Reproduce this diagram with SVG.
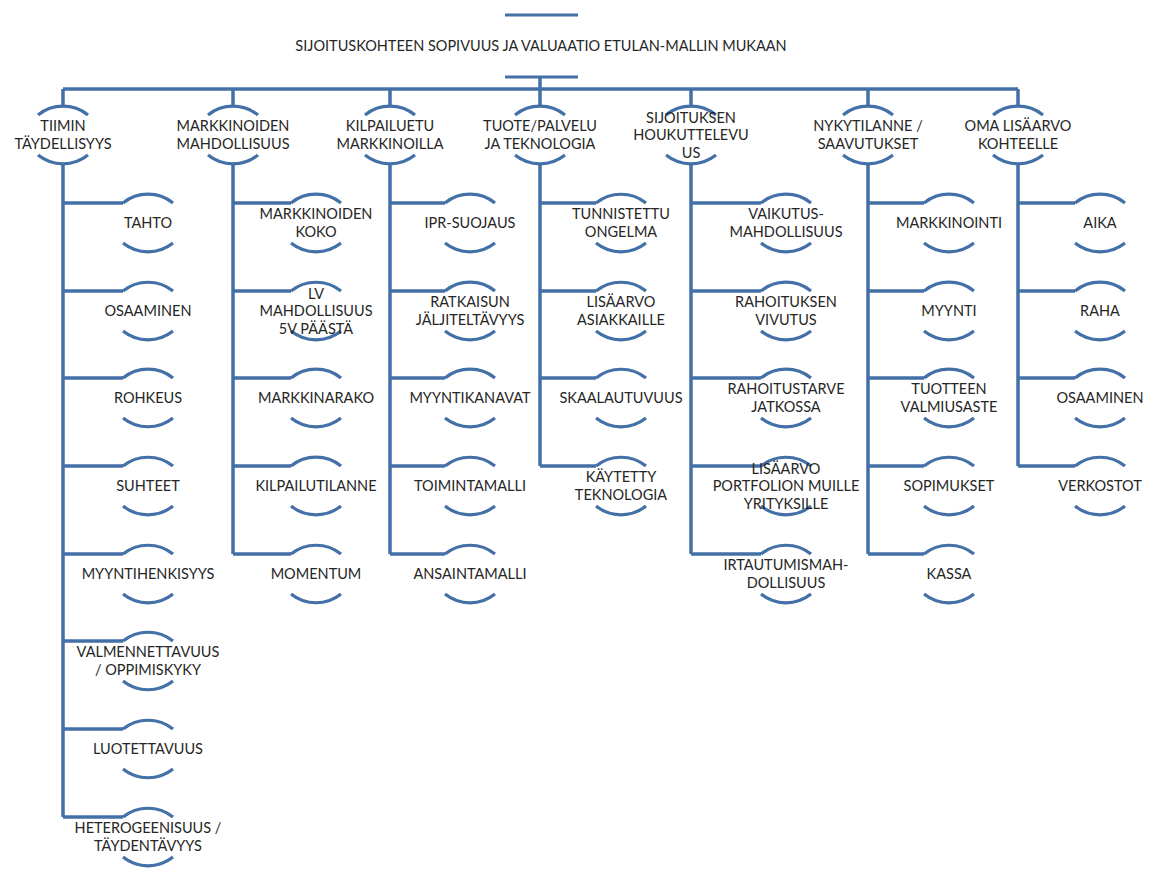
<svg xmlns="http://www.w3.org/2000/svg" width="1155" height="871" viewBox="0 0 1155 871">
<style>
.c{fill:none;stroke:#4470a8;stroke-width:3.5;stroke-linecap:butt}
.a{fill:none;stroke:#4470a8;stroke-width:3.2}
text{font-family:Lato,"Liberation Sans",sans-serif;font-size:14.5px;fill:#262626;text-anchor:middle}
</style>
<rect width="1155" height="871" fill="#ffffff"/>
<g id="connectors">
<path class="c" d="M540 77V89M63 89H1018"/>
<path class="c" d="M63 89V106M63 163V817M63 203H123M63 291H123M63 378H123M63 466H123M63 554H123M63 641H123M63 729H123M63 817H123"/>
<path class="c" d="M233 89V106M233 163V554M233 203H291M233 291H291M233 378H291M233 466H291M233 554H291"/>
<path class="c" d="M390 89V106M390 163V554M390 203H445M390 291H445M390 378H445M390 466H445M390 554H445"/>
<path class="c" d="M540 89V106M540 163V466M540 203H596M540 291H596M540 378H596M540 466H596"/>
<path class="c" d="M691 89V106M691 163V554M691 203H761M691 291H761M691 378H761M691 466H761M691 554H761"/>
<path class="c" d="M868 89V106M868 163V554M868 203H924M868 291H924M868 378H924M868 466H924M868 554H924"/>
<path class="c" d="M1018 89V106M1018 163V466M1018 203H1075M1018 291H1075M1018 378H1075M1018 466H1075"/>
</g>
<g id="root">
<path class="a" d="M505 15H578M505 77H578"/>
<text x="541" y="51">SIJOITUSKOHTEEN SOPIVUUS JA VALUAATIO ETULAN-MALLIN MUKAAN</text>
</g>
<!-- top level -->
<g id="n1"><path class="a" d="M38 115A40 40 0 0 1 88 115M38 155A40 40 0 0 0 88 155"/><text x="63" y="131.25">TIIMIN</text><text x="63" y="148.75">TÄYDELLISYYS</text></g>
<g id="n2"><path class="a" d="M208 115A40 40 0 0 1 258 115M208 155A40 40 0 0 0 258 155"/><text x="233" y="131.25">MARKKINOIDEN</text><text x="233" y="148.75">MAHDOLLISUUS</text></g>
<g id="n3"><path class="a" d="M365 115A40 40 0 0 1 415 115M365 155A40 40 0 0 0 415 155"/><text x="390" y="131.25">KILPAILUETU</text><text x="390" y="148.75">MARKKINOILLA</text></g>
<g id="n4"><path class="a" d="M515 115A40 40 0 0 1 565 115M515 155A40 40 0 0 0 565 155"/><text x="540" y="131.25">TUOTE/PALVELU</text><text x="540" y="148.75">JA TEKNOLOGIA</text></g>
<g id="n5"><path class="a" d="M666 115A40 40 0 0 1 716 115M666 155A40 40 0 0 0 716 155"/><text x="691" y="122.5">SIJOITUKSEN</text><text x="691" y="140">HOUKUTTELEVU</text><text x="691" y="157.5">US</text></g>
<g id="n6"><path class="a" d="M843 115A40 40 0 0 1 893 115M843 155A40 40 0 0 0 893 155"/><text x="868" y="131.25">NYKYTILANNE /</text><text x="868" y="148.75">SAAVUTUKSET</text></g>
<g id="n7"><path class="a" d="M993 115A40 40 0 0 1 1043 115M993 155A40 40 0 0 0 1043 155"/><text x="1018" y="131.25">OMA LISÄARVO</text><text x="1018" y="148.75">KOHTEELLE</text></g>
<!-- column 1 -->
<g id="n1-1"><path class="a" d="M123 203A40 40 0 0 1 173 203M123 243A40 40 0 0 0 173 243"/><text x="148" y="228">TAHTO</text></g>
<g id="n1-2"><path class="a" d="M123 291A40 40 0 0 1 173 291M123 331A40 40 0 0 0 173 331"/><text x="148" y="316">OSAAMINEN</text></g>
<g id="n1-3"><path class="a" d="M123 378A40 40 0 0 1 173 378M123 418A40 40 0 0 0 173 418"/><text x="148" y="403">ROHKEUS</text></g>
<g id="n1-4"><path class="a" d="M123 466A40 40 0 0 1 173 466M123 506A40 40 0 0 0 173 506"/><text x="148" y="491">SUHTEET</text></g>
<g id="n1-5"><path class="a" d="M123 554A40 40 0 0 1 173 554M123 594A40 40 0 0 0 173 594"/><text x="148" y="579">MYYNTIHENKISYYS</text></g>
<g id="n1-6"><path class="a" d="M123 641A40 40 0 0 1 173 641M123 681A40 40 0 0 0 173 681"/><text x="148" y="657.25">VALMENNETTAVUUS</text><text x="148" y="674.75">/ OPPIMISKYKY</text></g>
<g id="n1-7"><path class="a" d="M123 729A40 40 0 0 1 173 729M123 769A40 40 0 0 0 173 769"/><text x="148" y="754">LUOTETTAVUUS</text></g>
<g id="n1-8"><path class="a" d="M123 817A40 40 0 0 1 173 817M123 857A40 40 0 0 0 173 857"/><text x="148" y="833.25">HETEROGEENISUUS /</text><text x="148" y="850.75">TÄYDENTÄVYYS</text></g>
<!-- column 2 -->
<g id="n2-1"><path class="a" d="M291 203A40 40 0 0 1 341 203M291 243A40 40 0 0 0 341 243"/><text x="316" y="219.25">MARKKINOIDEN</text><text x="316" y="236.75">KOKO</text></g>
<g id="n2-2"><path class="a" d="M291 291A40 40 0 0 1 341 291M291 331A40 40 0 0 0 341 331"/><text x="316" y="298.5">LV</text><text x="316" y="316">MAHDOLLISUUS</text><text x="316" y="333.5">5V PÄÄSTÄ</text></g>
<g id="n2-3"><path class="a" d="M291 378A40 40 0 0 1 341 378M291 418A40 40 0 0 0 341 418"/><text x="316" y="403">MARKKINARAKO</text></g>
<g id="n2-4"><path class="a" d="M291 466A40 40 0 0 1 341 466M291 506A40 40 0 0 0 341 506"/><text x="316" y="491">KILPAILUTILANNE</text></g>
<g id="n2-5"><path class="a" d="M291 554A40 40 0 0 1 341 554M291 594A40 40 0 0 0 341 594"/><text x="316" y="579">MOMENTUM</text></g>
<!-- column 3 -->
<g id="n3-1"><path class="a" d="M445 203A40 40 0 0 1 495 203M445 243A40 40 0 0 0 495 243"/><text x="470" y="228">IPR-SUOJAUS</text></g>
<g id="n3-2"><path class="a" d="M445 291A40 40 0 0 1 495 291M445 331A40 40 0 0 0 495 331"/><text x="470" y="307.25">RATKAISUN</text><text x="470" y="324.75">JÄLJITELTÄVYYS</text></g>
<g id="n3-3"><path class="a" d="M445 378A40 40 0 0 1 495 378M445 418A40 40 0 0 0 495 418"/><text x="470" y="403">MYYNTIKANAVAT</text></g>
<g id="n3-4"><path class="a" d="M445 466A40 40 0 0 1 495 466M445 506A40 40 0 0 0 495 506"/><text x="470" y="491">TOIMINTAMALLI</text></g>
<g id="n3-5"><path class="a" d="M445 554A40 40 0 0 1 495 554M445 594A40 40 0 0 0 495 594"/><text x="470" y="579">ANSAINTAMALLI</text></g>
<!-- column 4 -->
<g id="n4-1"><path class="a" d="M596 203A40 40 0 0 1 646 203M596 243A40 40 0 0 0 646 243"/><text x="621" y="219.25">TUNNISTETTU</text><text x="621" y="236.75">ONGELMA</text></g>
<g id="n4-2"><path class="a" d="M596 291A40 40 0 0 1 646 291M596 331A40 40 0 0 0 646 331"/><text x="621" y="307.25">LISÄARVO</text><text x="621" y="324.75">ASIAKKAILLE</text></g>
<g id="n4-3"><path class="a" d="M596 378A40 40 0 0 1 646 378M596 418A40 40 0 0 0 646 418"/><text x="621" y="403">SKAALAUTUVUUS</text></g>
<g id="n4-4"><path class="a" d="M596 466A40 40 0 0 1 646 466M596 506A40 40 0 0 0 646 506"/><text x="621" y="482.25">KÄYTETTY</text><text x="621" y="499.75">TEKNOLOGIA</text></g>
<!-- column 5 -->
<g id="n5-1"><path class="a" d="M761 203A40 40 0 0 1 811 203M761 243A40 40 0 0 0 811 243"/><text x="786" y="219.25">VAIKUTUS-</text><text x="786" y="236.75">MAHDOLLISUUS</text></g>
<g id="n5-2"><path class="a" d="M761 291A40 40 0 0 1 811 291M761 331A40 40 0 0 0 811 331"/><text x="786" y="307.25">RAHOITUKSEN</text><text x="786" y="324.75">VIVUTUS</text></g>
<g id="n5-3"><path class="a" d="M761 378A40 40 0 0 1 811 378M761 418A40 40 0 0 0 811 418"/><text x="786" y="394.25">RAHOITUSTARVE</text><text x="786" y="411.75">JATKOSSA</text></g>
<g id="n5-4"><path class="a" d="M761 466A40 40 0 0 1 811 466M761 506A40 40 0 0 0 811 506"/><text x="786" y="473.5">LISÄARVO</text><text x="786" y="491">PORTFOLION MUILLE</text><text x="786" y="508.5">YRITYKSILLE</text></g>
<g id="n5-5"><path class="a" d="M761 554A40 40 0 0 1 811 554M761 594A40 40 0 0 0 811 594"/><text x="786" y="570.25">IRTAUTUMISMAH-</text><text x="786" y="587.75">DOLLISUUS</text></g>
<!-- column 6 -->
<g id="n6-1"><path class="a" d="M924 203A40 40 0 0 1 974 203M924 243A40 40 0 0 0 974 243"/><text x="949" y="228">MARKKINOINTI</text></g>
<g id="n6-2"><path class="a" d="M924 291A40 40 0 0 1 974 291M924 331A40 40 0 0 0 974 331"/><text x="949" y="316">MYYNTI</text></g>
<g id="n6-3"><path class="a" d="M924 378A40 40 0 0 1 974 378M924 418A40 40 0 0 0 974 418"/><text x="949" y="394.25">TUOTTEEN</text><text x="949" y="411.75">VALMIUSASTE</text></g>
<g id="n6-4"><path class="a" d="M924 466A40 40 0 0 1 974 466M924 506A40 40 0 0 0 974 506"/><text x="949" y="491">SOPIMUKSET</text></g>
<g id="n6-5"><path class="a" d="M924 554A40 40 0 0 1 974 554M924 594A40 40 0 0 0 974 594"/><text x="949" y="579">KASSA</text></g>
<!-- column 7 -->
<g id="n7-1"><path class="a" d="M1075 203A40 40 0 0 1 1125 203M1075 243A40 40 0 0 0 1125 243"/><text x="1100" y="228">AIKA</text></g>
<g id="n7-2"><path class="a" d="M1075 291A40 40 0 0 1 1125 291M1075 331A40 40 0 0 0 1125 331"/><text x="1100" y="316">RAHA</text></g>
<g id="n7-3"><path class="a" d="M1075 378A40 40 0 0 1 1125 378M1075 418A40 40 0 0 0 1125 418"/><text x="1100" y="403">OSAAMINEN</text></g>
<g id="n7-4"><path class="a" d="M1075 466A40 40 0 0 1 1125 466M1075 506A40 40 0 0 0 1125 506"/><text x="1100" y="491">VERKOSTOT</text></g>
</svg>
